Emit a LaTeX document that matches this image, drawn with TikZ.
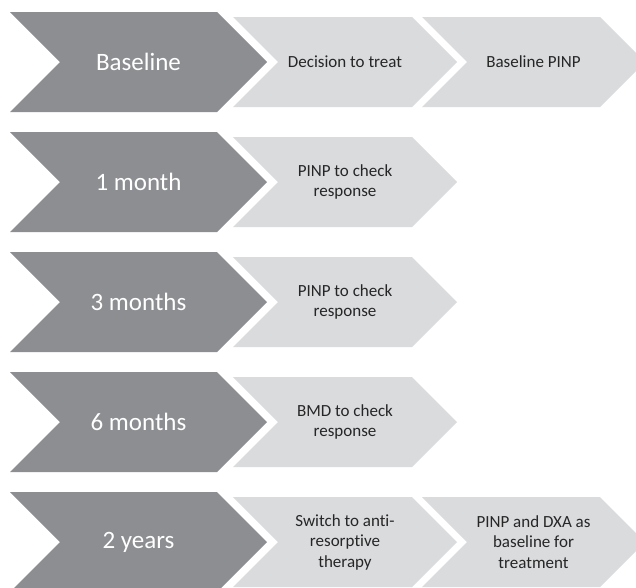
\documentclass[tikz,border=0pt]{standalone}
\usepackage{fontspec}
\setmainfont{Carlito}[Ligatures=NoCommon]
\definecolor{stagegray}{RGB}{141,142,146}
\definecolor{taskgray}{RGB}{218,219,221}
\definecolor{tasktext}{RGB}{38,38,38}

\begin{document}
\begin{tikzpicture}[x=1pt, y=-1pt,
        stage/.style={text=white, align=center, font=\fontsize{25}{30}\selectfont},
        task/.style={text=tasktext, align=center, font=\fontsize{17}{20.5}\selectfont}]
        % Chevron: left edge, right corner, centre line, half height, colour
        \newcommand{\chevronpath}[5]{
            \fill[#5] (#1,#3-#4) -- (#2,#3-#4) -- (#2+#4,#3) -- (#2,#3+#4) -- (#1,#3+#4) -- (#1+#4,#3) -- cycle;
        }
        \clip (0,0) rectangle (636,587);
        \fill[white] (0,0) rectangle (636,587);

        % Shapes
        \chevronpath{10}{217}{62}{50}{stagegray}
        \chevronpath{233}{412}{62}{45}{taskgray}
        \chevronpath{422}{600}{62}{45}{taskgray}
        \chevronpath{10}{217}{182}{50}{stagegray}
        \chevronpath{233}{412}{182}{45}{taskgray}
        \chevronpath{10}{217}{302}{50}{stagegray}
        \chevronpath{233}{412}{302}{45}{taskgray}
        \chevronpath{10}{217}{422}{50}{stagegray}
        \chevronpath{233}{412}{422}{45}{taskgray}
        \chevronpath{10}{217}{542}{50}{stagegray}
        \chevronpath{233}{412}{542}{45}{taskgray}
        \chevronpath{422}{600}{542}{45}{taskgray}

        % Labels
        \node[stage] (base) at (138.5,62) {Baseline};
        \node[task] (base1) at (345,62) {Decision to treat};
        \node[task] (base2) at (533.5,62) {Baseline PINP};

        \node[stage] (month1) at (138.5,182) {1 month};
        \node[task] (month1a) at (345,182) {PINP to check\\response};

        \node[stage] (month3) at (138.5,302) {3 months};
        \node[task] (month3a) at (345,302) {PINP to check\\response};

        \node[stage] (month6) at (138.5,422) {6 months};
        \node[task] (month6a) at (345,422) {BMD to check\\response};

        \node[stage] (year2) at (138.5,542) {2 years};
        \node[task] (year2a) at (345,542) {Switch to anti-\\resorptive\\therapy};
        \node[task] (year2b) at (533.5,542) {PINP and DXA as\\baseline for\\treatment};

    \end{tikzpicture}
\end{document}
